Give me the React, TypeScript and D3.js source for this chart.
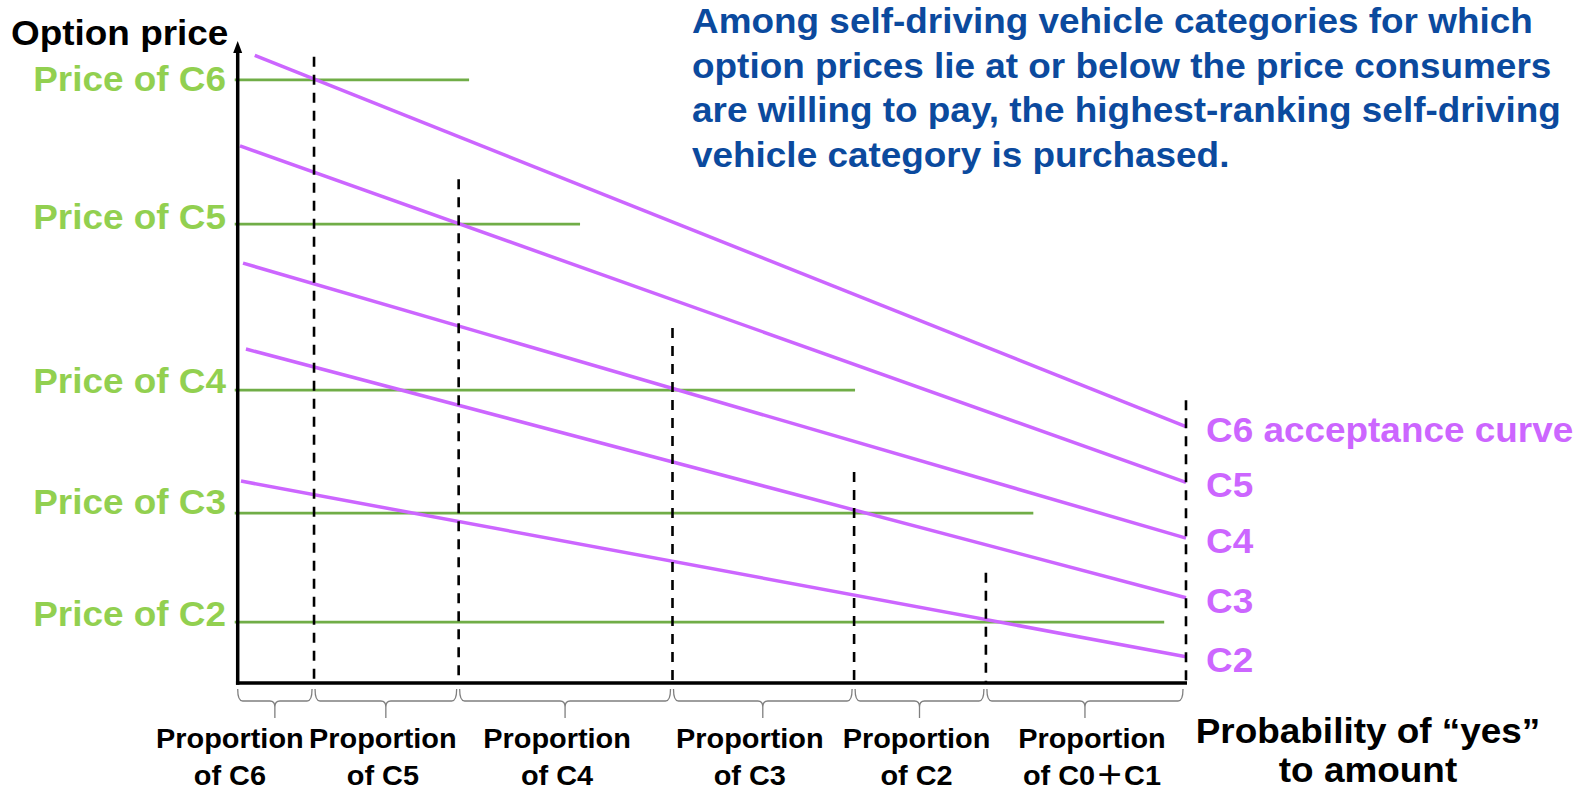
import React from "react";
import * as d3 from "d3";

// ---- data (schematic values, option price 0..100, probability 0..1) ----
const categories = ["C6", "C5", "C4", "C3", "C2"];
const priceValues = [94.1, 71.6, 45.7, 26.5, 9.5];
const priceLineEnds = [0.244, 0.361, 0.651, 0.839, 0.977];
const curveStartX = [0.018, 0.0024, 0.0056, 0.0087, 0.0035];
const curveStartValues = [97.9, 83.8, 65.5, 52.1, 31.5];
const curveEndValues = [40.0, 31.3, 22.6, 13.3, 4.1];
const curveLabels = ["C6 acceptance curve", "C5", "C4", "C3", "C2"];
const boundaries = [0, 0.0805, 0.233, 0.4585, 0.65, 0.789, 1.0];
const dashedTops = [97.7, 78.6, 55.4, 32.9, 17.2, 44.1];
const proportionLabels = ["of C6", "of C5", "of C4", "of C3", "of C2", "of C0＋C1"];
const titleLines = [
  "Among self-driving vehicle categories for which",
  "option prices lie at or below the price consumers",
  "are willing to pay, the highest-ranking self-driving",
  "vehicle category is purchased.",
];

// ---- layout ----
const W = 1581;
const H = 790;
const FONT = '"Liberation Sans", Arial, "Noto Sans CJK JP", sans-serif';
const PURPLE = "#CC66FF";
const GREEN_LINE = "#70AD47";
const GREEN_TEXT = "#92D050";
const BLUE = "#0B4A9E";
const SX = 1.07; // horizontal stretch of the lettering
const BIG = 34.5;
const priceLabelDy = [11, 5, 3, 1, 4];
const proportionShift = [-45, -3, -8, -13, -3, 7];

function T(props: {
  x: number;
  y: number;
  size: number;
  fill: string;
  anchor?: "start" | "middle" | "end";
  children: React.ReactNode;
}) {
  return (
    <text
      transform={`translate(${props.x},${props.y}) scale(${SX},1)`}
      textAnchor={props.anchor || "start"}
      fontSize={props.size}
      fontWeight="bold"
      fill={props.fill}
    >
      {props.children}
    </text>
  );
}

export default function App() {
  const x = d3.scaleLinear().domain([0, 1]).range([237.7, 1186]);
  const y = d3.scaleLinear().domain([0, 100]).range([683, 42]);
  const line = d3
    .line<[number, number]>()
    .x((d) => x(d[0]))
    .y((d) => y(d[1]));

  const axisY = y(0);
  const y0 = 689;
  const y1 = 701;
  const y2 = 718;

  const braces = boundaries.slice(0, -1).map((b, i) => {
    const a = x(b) + (i === 0 ? 0 : 1);
    const e = x(boundaries[i + 1]) - (i === boundaries.length - 2 ? 3 : 2);
    const m = (a + e) / 2;
    const p = d3.path();
    p.moveTo(a, y0);
    p.quadraticCurveTo(a, y1, a + 5, y1);
    p.lineTo(m - 5, y1);
    p.quadraticCurveTo(m, y1, m, y1 + 6);
    p.lineTo(m, y2);
    p.moveTo(m, y1 + 6);
    p.quadraticCurveTo(m, y1, m + 5, y1);
    p.lineTo(e - 5, y1);
    p.quadraticCurveTo(e, y1, e, y0);
    return { d: p.toString(), m };
  });

  return (
    <svg
      width={W}
      height={H}
      style={{ position: "absolute", left: 0, top: 0, display: "block", background: "#fff" }}
      fontFamily={FONT}
    >
      <rect width={W} height={H} fill="#fff" />

      {/* price lines */}
      {categories.map((c, i) => (
        <line
          key={"p" + c}
          x1={x(0) - 3}
          x2={x(priceLineEnds[i])}
          y1={y(priceValues[i])}
          y2={y(priceValues[i])}
          stroke={GREEN_LINE}
          strokeWidth={2.8}
        />
      ))}

      {/* acceptance curves */}
      {categories.map((c, i) => (
        <path
          key={"c" + c}
          d={line([
            [curveStartX[i], curveStartValues[i]],
            [1, curveEndValues[i]],
          ]) || ""}
          fill="none"
          stroke={PURPLE}
          strokeWidth={3.5}
        />
      ))}

      {/* dashed boundaries */}
      {boundaries.slice(1).map((b, i) => (
        <line
          key={"d" + i}
          x1={x(b)}
          x2={x(b)}
          y1={y(dashedTops[i])}
          y2={i === boundaries.length - 2 ? axisY + 4 : axisY}
          stroke="#000"
          strokeWidth={2.6}
          strokeDasharray="10,8"
        />
      ))}

      {/* axes */}
      <line x1={x(0)} x2={x(0)} y1={axisY + 1.75} y2={50} stroke="#000" strokeWidth={3.5} />
      <path d={`M${x(0)},41 L${x(0) - 4.5},53 L${x(0) + 4.5},53 Z`} fill="#000" />
      <line x1={x(0) - 1.75} x2={x(1) + 1} y1={axisY} y2={axisY} stroke="#000" strokeWidth={3.5} />

      {/* braces */}
      {braces.map((b, i) => (
        <path key={"b" + i} d={b.d} fill="none" stroke="#7F7F7F" strokeWidth={1.3} />
      ))}

      {/* proportion labels */}
      {braces.map((b, i) => (
        <g key={"l" + i}>
          <T x={b.m + proportionShift[i]} y={748} size={27} fill="#000" anchor="middle">
            Proportion
          </T>
          <T x={b.m + proportionShift[i]} y={785} size={27} fill="#000" anchor="middle">
            {proportionLabels[i]}
          </T>
        </g>
      ))}

      {/* price labels */}
      {categories.map((c, i) => (
        <T
          key={"t" + c}
          x={226}
          y={y(priceValues[i]) + priceLabelDy[i]}
          size={BIG}
          fill={GREEN_TEXT}
          anchor="end"
        >
          {"Price of " + c}
        </T>
      ))}

      {/* curve labels */}
      {curveLabels.map((c, i) => (
        <T key={"r" + i} x={1206} y={y(curveEndValues[i]) + 15} size={BIG} fill={PURPLE}>
          {c}
        </T>
      ))}

      {/* axis titles */}
      <T x={11} y={45} size={BIG} fill="#000">
        Option price
      </T>
      <T x={1368} y={743} size={BIG} fill="#000" anchor="middle">
        Probability of “yes”
      </T>
      <T x={1368} y={782} size={BIG} fill="#000" anchor="middle">
        to amount
      </T>

      {/* annotation */}
      {titleLines.map((t, i) => (
        <T key={"a" + i} x={692} y={33.3 + 44.5 * i} size={BIG} fill={BLUE}>
          {t}
        </T>
      ))}
    </svg>
  );
}
